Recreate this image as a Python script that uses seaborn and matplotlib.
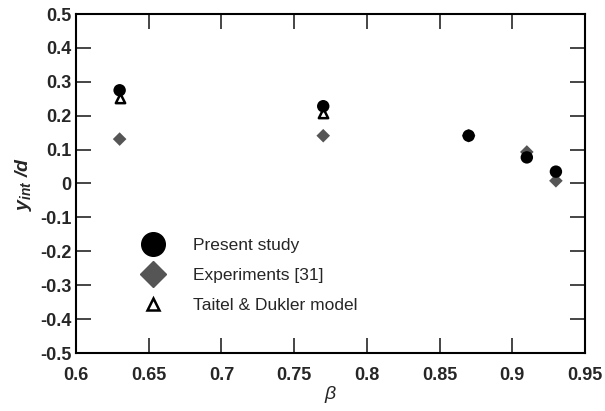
import matplotlib
matplotlib.use("Agg")
import matplotlib.pyplot as plt
import pandas as pd
import seaborn as sns
from matplotlib.lines import Line2D

# Data
beta = [0.63, 0.77, 0.87, 0.91, 0.93]
present_study = [0.275, 0.228, 0.141, 0.077, 0.035]
experiments = [0.131, 0.141, 0.141, 0.093, 0.008]
beta_td = [0.63, 0.77]
taitel_dukler = [0.253, 0.209]

sns.set_theme(style="ticks")
plt.rcParams["font.family"] = ["Liberation Sans", "DejaVu Sans"]
plt.rcParams["mathtext.fontset"] = "custom"
plt.rcParams["mathtext.rm"] = "Liberation Sans"
plt.rcParams["mathtext.it"] = "Liberation Sans:italic"
plt.rcParams["mathtext.bf"] = "Liberation Sans:bold"
plt.rcParams["mathtext.bfit"] = "Liberation Sans:bold:italic"

df_ps = pd.DataFrame({"beta": beta, "y": present_study})
df_ex = pd.DataFrame({"beta": beta, "y": experiments})
df_td = pd.DataFrame({"beta": beta_td, "y": taitel_dukler})

fig = plt.figure(figsize=(6.05, 4.11), dpi=100)
ax = fig.add_axes([76 / 605, 1 - 353 / 411, (585 - 76) / 605, (353 - 14) / 411])

sns.scatterplot(data=df_ex, x="beta", y="y", marker="D", s=48, color="#555555",
                edgecolor="none", ax=ax, zorder=2)
sns.scatterplot(data=df_ps, x="beta", y="y", marker="o", s=80, color="black",
                edgecolor="none", ax=ax, zorder=3)
sns.scatterplot(data=df_td, x="beta", y="y", marker="^", s=45, facecolor="white",
                edgecolor="black", linewidth=1.8, ax=ax, zorder=2.5)

ax.set_xlim(0.6, 0.95)
ax.set_ylim(-0.5, 0.5)
ax.set_xticks([0.6, 0.65, 0.7, 0.75, 0.8, 0.85, 0.9, 0.95])
ax.set_xticklabels(["0.6", "0.65", "0.7", "0.75", "0.8", "0.85", "0.9", "0.95"])
ax.set_yticks([0.5, 0.4, 0.3, 0.2, 0.1, 0, -0.1, -0.2, -0.3, -0.4, -0.5])
ax.set_yticklabels(["0.5", "0.4", "0.3", "0.2", "0.1", "0", "-0.1", "-0.2",
                    "-0.3", "-0.4", "-0.5"])
ax.tick_params(direction="in", length=11, width=1.2, top=True, right=True,
               labelsize=13)
ax.tick_params(axis="x", pad=10)
ax.tick_params(axis="y", pad=3.5)
for lbl in ax.get_xticklabels() + ax.get_yticklabels():
    lbl.set_fontweight("bold")
for sp in ax.spines.values():
    sp.set_linewidth(1.5)
    sp.set_color("black")

ax.set_xlabel(r"$\beta$", fontsize=14, labelpad=0)
ax.set_ylabel(r"$\mathbfit{y}_{\mathbfit{int}}\ \mathbfit{/d}$", fontsize=14,
              labelpad=4)

handles = [
    Line2D([0], [0], marker="o", linestyle="none", color="black", markersize=17,
           label="Present study"),
    Line2D([0], [0], marker="D", linestyle="none", color="#555555", markersize=13,
           label="Experiments [31]"),
    Line2D([0], [0], marker="^", linestyle="none", markerfacecolor="white",
           markeredgecolor="black", markeredgewidth=1.8, markersize=8,
           label="Taitel & Dukler model"),
]
ax.legend(handles=handles, loc="upper left", bbox_to_anchor=(0.104, 0.36),
          frameon=False, fontsize=12.5, handletextpad=1.3, labelspacing=0.85,
          borderaxespad=0)

fig.savefig("out.png", dpi=100)
